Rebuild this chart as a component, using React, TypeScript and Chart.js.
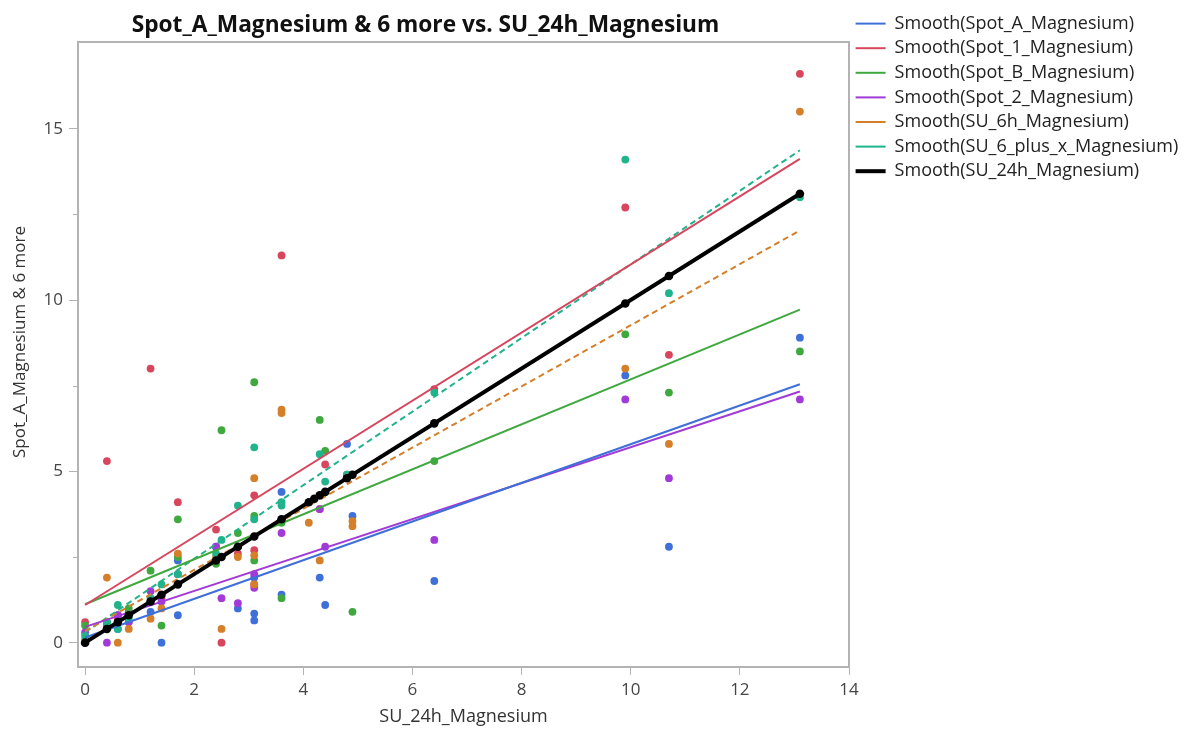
import { useEffect, useRef } from 'react';
import { Chart, registerables } from 'chart.js';

Chart.register(...registerables);

// ---------- data ----------
const chartTitle = 'Spot_A_Magnesium & 6 more vs. SU_24h_Magnesium';
const xTitle = 'SU_24h_Magnesium';
const yTitle = 'Spot_A_Magnesium & 6 more';

const seriesNames = [
  'Smooth(Spot_A_Magnesium)',
  'Smooth(Spot_1_Magnesium)',
  'Smooth(Spot_B_Magnesium)',
  'Smooth(Spot_2_Magnesium)',
  'Smooth(SU_6h_Magnesium)',
  'Smooth(SU_6_plus_x_Magnesium)',
  'Smooth(SU_24h_Magnesium)',
];

const xTicks = [0, 2, 4, 6, 8, 10, 12, 14];
const yTicks = [0, 5, 10, 15];
const yMinorTicks = [2.5, 7.5, 12.5];

// fitted (smooth) lines: value at x = fitX[0] and at x = fitX[1]
const fitX = [0, 13.1];
const fitStart = [0.15, 1.1, 1.12, 0.46, 0.34, 0.3, 0];
const fitEnd = [7.54, 14.12, 9.72, 7.33, 12.03, 14.37, 13.1];

// observed points [SU_24h, value]
const spotA: [number, number][] = [
  [0, 0], [0.4, 0.5], [0.6, 0.4], [0.8, 0.6], [1.2, 0.9], [1.4, 0], [1.7, 0.8], [1.7, 2.4],
  [2.4, 2.8], [2.8, 1.0], [3.1, 0.85], [3.1, 0.65], [3.1, 1.9], [3.6, 4.4], [3.6, 1.4],
  [4.3, 1.9], [4.4, 1.1], [4.8, 5.8], [4.9, 3.7], [6.4, 1.8], [9.9, 7.8], [10.7, 2.8], [13.1, 8.9],
];
const spot1: [number, number][] = [
  [0, 0.6], [0.4, 5.3], [0.6, 0.7], [0.8, 0.9], [1.2, 8.0], [1.4, 1.3], [1.7, 4.1], [2.4, 3.3],
  [2.5, 0], [2.8, 2.6], [3.1, 4.3], [3.1, 2.7], [3.1, 1.7], [3.6, 11.3], [3.6, 3.6], [4.3, 3.9],
  [4.4, 5.2], [4.8, 4.9], [6.4, 7.4], [9.9, 12.7], [10.7, 8.4], [13.1, 16.6],
];
const spotB: [number, number][] = [
  [0, 0.5], [0.4, 0.6], [0.6, 0.8], [0.8, 1.0], [1.2, 2.1], [1.4, 0.5], [1.7, 3.6], [1.7, 2.5],
  [2.4, 2.3], [2.5, 6.2], [2.8, 3.2], [3.1, 7.6], [3.1, 3.7], [3.1, 2.4], [3.6, 1.3], [3.6, 3.5],
  [4.3, 6.5], [4.4, 5.6], [4.9, 0.9], [6.4, 5.3], [9.9, 9.0], [10.7, 7.3], [13.1, 8.5],
];
const spot2: [number, number][] = [
  [0, 0.3], [0.4, 0], [0.6, 0.8], [0.8, 0.6], [1.2, 1.5], [1.4, 1.2], [1.7, 2.0], [2.4, 2.8],
  [2.5, 1.3], [2.8, 1.15], [3.1, 1.6], [3.1, 2.0], [3.6, 3.2], [4.3, 3.9], [4.4, 2.8],
  [6.4, 3.0], [9.9, 7.1], [10.7, 4.8], [13.1, 7.1],
];
const su6h: [number, number][] = [
  [0, 0.1], [0.4, 1.9], [0.6, 0], [0.8, 0.4], [1.2, 0.7], [1.4, 1.0], [1.7, 2.6], [2.4, 2.5],
  [2.5, 0.4], [2.8, 2.5], [3.1, 4.8], [3.1, 2.55], [3.1, 1.7], [3.6, 6.8], [3.6, 6.7], [4.1, 3.5],
  [4.3, 2.4], [4.9, 3.55], [4.9, 3.4], [6.4, 6.4], [9.9, 8.0], [10.7, 5.8], [13.1, 15.5],
];
const su6plus: [number, number][] = [
  [0, 0.2], [0.4, 0.6], [0.6, 1.1], [0.6, 0.4], [0.8, 0.7], [1.2, 1.3], [1.4, 1.7], [1.7, 2.0],
  [2.4, 2.6], [2.5, 3.0], [2.8, 4.0], [3.1, 5.7], [3.1, 3.6], [3.6, 4.1], [3.6, 4.0], [4.3, 5.5],
  [4.4, 4.7], [4.8, 4.9], [6.4, 7.3], [9.9, 14.1], [10.7, 10.2], [13.1, 13.0],
];
// SU_24h_Magnesium plotted against itself
const su24: number[] = [
  0, 0.4, 0.6, 0.8, 1.2, 1.4, 1.7, 2.4, 2.5, 2.8, 3.1, 3.6, 4.1, 4.2, 4.3, 4.4, 4.8, 4.9, 6.4, 9.9, 10.7, 13.1,
];

// ---------- styles ----------
const colors = ['#3f6fd8', '#d8465e', '#3fa83f', '#a13ad6', '#d57f2a', '#21b38b', '#000000'];
const dashes = [[], [], [], [], [6, 4], [6, 4], []];
const FONT = '"Open Sans", "Noto Sans", sans-serif';
const axisColor = '#b3b3b3';
const tickColor = '#454545';
const LEGEND_W = 329;

const decorPlugin = {
  id: 'decor',
  beforeLayout(chart: any) {
    const lg = chart.legend;
    if (lg && !lg._fixedW) {
      const orig = lg.fit.bind(lg);
      lg.fit = () => {
        orig();
        lg.width = LEGEND_W;
      };
      lg._fixedW = true;
    }
  },
  afterDraw(chart: any) {
    const { ctx, chartArea: a, scales } = chart;
    ctx.save();
    ctx.strokeStyle = axisColor;
    ctx.lineWidth = 2;
    ctx.beginPath();
    ctx.moveTo(a.left, a.top);
    ctx.lineTo(a.right, a.top);
    ctx.lineTo(a.right, a.bottom);
    ctx.stroke();
    ctx.lineWidth = 1;
    yMinorTicks.forEach((v) => {
      const py = Math.round(scales.y.getPixelForValue(v)) + 0.5;
      ctx.beginPath();
      ctx.moveTo(a.left - 5, py);
      ctx.lineTo(a.left, py);
      ctx.stroke();
    });
    ctx.fillStyle = '#111111';
    ctx.font = `bold 22.7px ${FONT}`;
    ctx.textAlign = 'center';
    ctx.textBaseline = 'alphabetic';
    ctx.fillText(chartTitle, a.right / 2 - 3, 24);
    ctx.translate(12, 334);
    ctx.rotate(-Math.PI / 2);
    ctx.font = `17px ${FONT}`;
    ctx.fillStyle = '#333333';
    ctx.textBaseline = 'middle';
    ctx.fillText(yTitle, 0, 0);
    ctx.restore();
  },
};

export default function App() {
  const ref = useRef<HTMLCanvasElement | null>(null);

  useEffect(() => {
    if (!ref.current) return;
    const fitSets = seriesNames.map((name, i) => ({
      label: name,
      data: [
        { x: fitX[0], y: fitStart[i] },
        { x: fitX[1], y: fitEnd[i] },
      ],
      showLine: true,
      borderColor: colors[i],
      backgroundColor: colors[i],
      borderWidth: i === 6 ? 4 : 2,
      borderDash: dashes[i],
      pointRadius: 0,
      pointHoverRadius: 0,
      order: i === 6 ? 0 : 1,
      isFit: true,
    }));
    const pointSeries = [spotA, spot1, spotB, spot2, su6h, su6plus];
    const pointSets = pointSeries.map((pts, i) => ({
      label: seriesNames[i] + ' points',
      data: pts.map(([x, y]) => ({ x, y })),
      showLine: false,
      pointRadius: 3.9,
      pointBorderWidth: 0,
      pointBackgroundColor: colors[i],
      borderColor: colors[i],
      order: 10 - i,
      isFit: false,
    }));
    const blackPts = {
      label: 'SU_24h points',
      data: su24.map((v) => ({ x: v, y: v })),
      showLine: false,
      pointRadius: 4.3,
      pointBorderWidth: 0,
      pointBackgroundColor: '#000000',
      borderColor: '#000000',
      order: -1,
      isFit: false,
    };

    const chart = new Chart(ref.current, {
      type: 'scatter',
      data: { datasets: [...fitSets, ...pointSets, blackPts] as any },
      plugins: [decorPlugin as any],
      options: {
        animation: false,
        responsive: false,
        maintainAspectRatio: false,
        devicePixelRatio: 1,
        layout: { padding: { left: 0, right: 0, top: 0, bottom: 1 } },
        plugins: {
          title: { display: false },
          tooltip: { enabled: false },
          legend: {
            display: true,
            position: 'right',
            align: 'start',
            labels: {
              usePointStyle: true,
              pointStyle: 'line',
              pointStyleWidth: 30,
              padding: 6.6,
              color: '#222222',
              font: { family: FONT, size: 18 },
              filter: (item: any, data: any) => !!data.datasets[item.datasetIndex].isFit,
              sort: (a: any, b: any) => a.datasetIndex - b.datasetIndex,
            },
          },
        },
        scales: {
          x: {
            type: 'linear',
            position: 'bottom',
            min: -0.13,
            max: 14,
            afterBuildTicks: (s: any) => {
              s.ticks = xTicks.map((v) => ({ value: v }));
            },
            afterFit: (s: any) => {
              s.height = 61;
            },
            grid: { display: true, drawOnChartArea: false, drawTicks: true, tickLength: 8, color: axisColor, lineWidth: 1 },
            border: { display: true, color: axisColor, width: 2 },
            ticks: { padding: 5, color: tickColor, font: { family: FONT, size: 17 }, autoSkip: false, maxRotation: 0 },
            title: { display: true, text: xTitle, color: '#333333', font: { family: FONT, size: 18 }, padding: { top: 0, bottom: 0 } },
          },
          xTop: {
            type: 'linear',
            position: 'top',
            display: true,
            afterFit: (s: any) => {
              s.height = 34;
            },
            ticks: { display: false },
            grid: { display: false, drawTicks: false },
            border: { display: false },
          },
          y: {
            type: 'linear',
            position: 'left',
            min: -0.71,
            max: 17.53,
            afterBuildTicks: (s: any) => {
              s.ticks = yTicks.map((v) => ({ value: v }));
            },
            afterFit: (s: any) => {
              s.width = 70;
            },
            grid: { display: true, drawOnChartArea: false, drawTicks: true, tickLength: 9, color: axisColor, lineWidth: 1 },
            border: { display: true, color: axisColor, width: 2 },
            ticks: { padding: 6, color: tickColor, font: { family: FONT, size: 17 } },
            title: { display: false },
          },
        },
      } as any,
    });
    return () => chart.destroy();
  }, []);

  return (
    <div style={{ position: 'absolute', left: 8, top: 8, width: 1170, height: 721 }}>
      <canvas ref={ref} width={1170} height={721} style={{ display: 'block', width: 1170, height: 721 }} />
    </div>
  );
}
